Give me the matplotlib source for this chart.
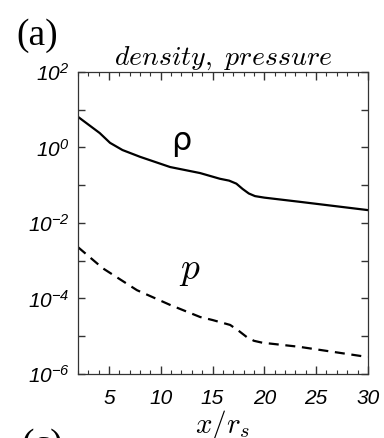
import numpy as np
import matplotlib
matplotlib.use('Agg')
import matplotlib.pyplot as plt

plt.rcParams['mathtext.fontset'] = 'cm'
plt.rcParams['mathtext.rm'] = 'Liberation Sans:italic'
plt.rcParams['mathtext.it'] = 'Liberation Sans:italic'

# density profile (x / r_s, log10 value)
x_rho = [2.0, 4.1, 5.1, 6.3, 8.0, 10.9, 13.8, 15.7, 16.6, 17.3, 17.9, 18.5, 19.1, 20.0, 23.4, 30.0]
log_rho = [0.81, 0.38, 0.12, -0.07, -0.25, -0.52, -0.68, -0.83, -0.88, -0.96, -1.10, -1.22, -1.29, -1.33, -1.44, -1.66]

# pressure profile
x_p = [2.0, 4.4, 7.7, 10.9, 13.8, 15.0, 16.7, 17.5, 18.3, 19.0, 19.8, 23.4, 30.0]
log_p = [-2.64, -3.2, -3.78, -4.17, -4.49, -4.57, -4.70, -4.85, -5.02, -5.12, -5.17, -5.28, -5.55]

xticks = [5, 10, 15, 20, 25, 30]
ydecades = np.arange(-6, 3)
ylabels = [rf'$10^{{{d}}}$' if d % 2 == 0 else '' for d in ydecades]

fig = plt.figure(figsize=(3.84, 4.38), dpi=100)
ax = fig.add_axes([0.203, 0.146, 0.755, 0.69])

ax.plot(x_rho, 10**np.array(log_rho), color='black', lw=1.6)
ax.plot(x_p, 10**np.array(log_p), color='black', lw=1.6, dashes=(4.5, 3))

ax.set_yscale('log')
ax.set_xlim(2, 30)
ax.set_ylim(1e-6, 1e2)

ax.set_xticks(xticks)
ax.set_xticks(np.arange(2, 31, 1), minor=True)
ax.set_yticks(10.0**ydecades)
ax.set_yticks([], minor=True)

ax.set_xticklabels([str(t) for t in xticks], family='Liberation Sans',
                   style='italic', size=15)
ax.set_yticklabels(ylabels, size=15)
for lab in ax.get_yticklabels():
    lab.set_math_fontfamily('custom')

ax.tick_params(axis='both', which='both', direction='in', top=True, right=True,
               color='#333333')
ax.tick_params(axis='x', which='major', length=6, width=1, pad=11)
ax.tick_params(axis='x', which='minor', length=3, width=0.8)
ax.tick_params(axis='y', which='major', length=5, width=1, pad=6)
for s in ax.spines.values():
    s.set_linewidth(0.9)
    s.set_color('#333333')

ax.set_title(r'$density,\ pressure$', fontsize=20, pad=3)
ax.set_xlabel(r'$x/r_s$', fontsize=21, labelpad=0)

ax.text(12.0, 10**0.15, 'ρ', fontsize=23, ha='center', va='center',
        family='DejaVu Sans')
ax.text(12.8, 10**-3.25, r'$p$', fontsize=27, ha='center', va='center')

fig.text(0.042, 0.958, '(a)', fontsize=27, family='Liberation Serif',
         ha='left', va='top')
fig.text(0.055, 1 - 428 / 438, '(c)', fontsize=27, family='Liberation Serif',
         ha='left', va='top')

fig.savefig('out.png', dpi=100)
